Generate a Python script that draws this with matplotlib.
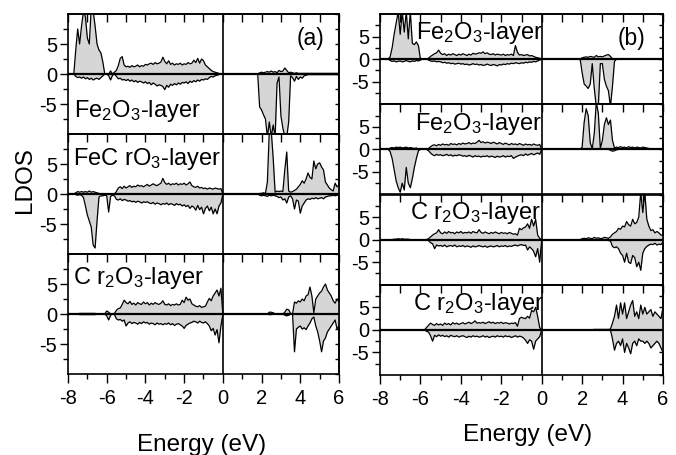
import matplotlib
matplotlib.use("Agg")
import matplotlib.pyplot as plt
import numpy as np
from matplotlib.ticker import MultipleLocator, FixedLocator, NullFormatter

plt.rcParams["font.family"] = ["Liberation Sans", "DejaVu Sans"]
plt.rcParams["mathtext.fontset"] = "custom"
plt.rcParams["mathtext.rm"] = "Liberation Sans"
plt.rcParams["mathtext.it"] = "Liberation Sans"
plt.rcParams["axes.unicode_minus"] = False

# energy sampling grid, 0.1 eV steps from -8 to 6 eV (141 points)
ENERGY = np.linspace(-8.0, 6.0, 141)

# ---- panel (a) ---------------------------------------------------------
# each row of 10 values covers one eV, starting at -8.0 eV
A_FE2O3_UP = [
    0, 0, 0, 0, 4.0, 7.5, 5.0, 8.0, 10.5, 9.5,
    6.0, 5.0, 11, 10.5, 8.0, 5.0, 4.0, 3.5, 2.0, 0,
    0, 0, 0.5, 0, 0.3, 0.6, 1.4, 2.6, 2.9, 1.5,
    1.2, 1.3, 1.1, 1.4, 1.2, 1.3, 1.5, 1.2, 1.4, 1.3,
    1.6, 1.5, 1.7, 1.8, 1.6, 1.9, 1.7, 1.8, 2.0, 2.8,
    2.1, 1.7, 2.2, 1.6, 1.8, 1.5, 1.7, 1.6, 1.8, 1.5,
    1.7, 1.6, 1.9, 1.7, 1.8, 2.3, 1.9, 2.6, 1.8, 2.5,
    2.2, 1.5, 1.2, 0.9, 0.6, 0.4, 0.3, 0.2, 0.1, 0,
    0, 0, 0, 0, 0, 0, 0, 0, 0, 0,
    0, 0, 0, 0, 0, 0, 0, 0, 0, 0.2,
    0.3, 0.2, 0.3, 0.4, 0.3, 0.5, 0.3, 0.4, 0.2, 0.6,
    0.4, 0.5, 1.0, 0.6, 0.2, 0.3, 0.2, 0.1, 0.2, 0.1,
    0.1, 0.1, 0.1, 0.1, 0.1, 0.1, 0.1, 0.1, 0.1, 0.1,
    0.1, 0.1, 0.1, 0.1, 0.1, 0.1, 0.1, 0.1, 0.1, 0.1,
    0.1,
]
A_FE2O3_DN = [
    0, 0, 0, 0, -0.4, -0.6, -0.5, -0.7, -0.5, -0.8,
    -0.6, -0.9, -0.7, -1.0, -0.8, -0.7, -0.9, -0.6, -0.3, 0,
    0, -0.3, -1.0, -0.2, 0, -0.4, -0.8, -0.7, -1.0, -0.9,
    -1.1, -0.9, -1.2, -1.0, -1.3, -1.1, -1.4, -1.2, -1.3, -1.5,
    -1.3, -1.6, -1.4, -1.8, -1.5, -1.7, -2.0, -1.8, -1.9, -2.1,
    -2.6, -1.9, -2.2, -1.7, -1.9, -1.6, -1.8, -1.5, -1.7, -1.4,
    -1.5, -1.3, -1.6, -1.2, -1.4, -1.1, -1.3, -1.0, -1.2, -0.9,
    -1.0, -0.8, -0.9, -0.6, -0.4, -0.5, -0.3, -0.2, -0.1, 0,
    0, 0, 0, 0, 0, 0, 0, 0, 0, 0,
    0, 0, 0, 0, 0, 0, 0, 0, 0, -5.5,
    -6.0, -6.8, -7.5, -10.5, -8.0, -10.5, -8.5, -10.5, -1.5, -0.5,
    -7.0, -9.0, -10.5, -10.5, -8.0, -0.3, -0.6, -1.2, -0.4, -0.9,
    -0.5, -0.7, -0.3, -0.2, -0.1, -0.1, -0.1, -0.1, -0.1, -0.1,
    -0.1, -0.1, -0.1, -0.1, -0.1, -0.1, -0.1, -0.1, -0.1, -0.1,
    -0.1,
]
A_FECRO3_UP = [
    0, 0, 0, 0, 0.2, 0.4, 0.3, 0.4, 0.3, 0.4,
    0.3, 0.5, 0.3, 0.4, 0.3, 0.2, 0.1, 0, 0, 0,
    0, 0, 0, 0, 0, 0.4, 1.0, 1.2, 0.9, 1.3,
    1.0, 1.2, 1.4, 1.1, 1.3, 1.2, 1.5, 1.3, 1.4, 1.2,
    1.4, 1.6, 1.3, 1.5, 1.7, 1.5, 1.4, 1.6, 1.8, 2.6,
    1.9, 1.6, 1.8, 1.5, 1.7, 1.6, 1.8, 1.5, 1.7, 1.6,
    1.8, 1.5, 1.7, 2.0, 1.4, 1.2, 1.1, 1.3, 1.0, 1.1,
    0.9, 1.0, 0.8, 1.0, 0.9, 0.8, 1.0, 0.9, 0.8, 0.9,
    0, 0, 0, 0, 0, 0, 0, 0, 0, 0,
    0, 0, 0, 0, 0, 0, 0, 0, 0, 0.1,
    0.1, 0.2, 0.1, 2.0, 10.5, 10.5, 6.0, 0.3, 0.5, 0.4,
    0.5, 0.4, 4.0, 7.0, 0.5, 0.3, 0.4, 0.6, 0.8, 1.2,
    1.6, 2.2, 1.8, 2.5, 3.5, 2.8, 2.5, 5.5, 4.2, 5.0,
    5.2, 4.5, 4.0, 2.0, 1.5, 1.0, 0.7, 0.5, 1.8, 1.2,
    1.5,
]
A_FECRO3_DN = [
    0, 0, 0, 0, -0.1, -0.2, -0.1, -0.2, -0.6, -2.0,
    -3.5, -4.5, -5.5, -8.5, -9.0, -4.5, -0.5, -0.3, -0.3, -0.2,
    -0.3, -3.0, -0.4, -0.2, -0.3, -0.9, -1.0, -0.8, -1.1, -0.9,
    -1.0, -1.2, -1.1, -1.3, -1.2, -1.4, -1.2, -1.3, -1.5, -1.3,
    -1.4, -1.3, -1.5, -1.6, -1.4, -1.7, -1.5, -1.6, -1.8, -1.6,
    -1.7, -1.5, -1.8, -1.6, -1.7, -1.9, -1.6, -1.8, -1.7, -2.0,
    -1.8, -2.1, -1.9, -2.4, -2.0, -2.2, -2.7, -1.9, -2.6, -2.2,
    -3.3, -2.4, -2.0, -2.8, -2.2, -3.3, -2.5, -3.3, -2.0, -1.5,
    0, 0, 0, 0, 0, 0, 0, 0, 0, 0,
    0, 0, 0, 0, 0, 0, 0, 0, 0, -0.2,
    -0.3, -0.2, -0.3, -0.4, -0.2, -0.3, -0.2, -0.3, -0.4, -0.6,
    -0.5, -1.0, -0.8, -1.5, -0.5, -0.3, -0.8, -2.5, -1.0, -1.2,
    -3.2, -2.0, -1.5, -1.0, -0.8, -0.9, -0.7, -0.8, -0.6, -0.8,
    -0.7, -0.6, -0.8, -0.5, -0.4, -0.3, -0.3, -0.2, -0.3, -0.2,
    -0.2,
]
A_CR2O3_UP = [
    0, 0, 0, 0, 0, 0, 0.1, 0.1, 0.1, 0.1,
    0.1, 0.1, 0.1, 0.1, 0.1, 0, 0, 0, 0, 0,
    0.5, 0.3, 0, 0, 0.1, 0.6, 0.9, 1.0, 1.6, 2.3,
    1.9, 1.7, 2.1, 1.6, 1.8, 1.5, 1.9, 1.7, 1.6, 2.0,
    1.7, 1.9, 1.5, 1.8, 1.6, 1.9, 1.7, 1.6, 1.8, 2.2,
    1.6, 1.5, 1.7, 1.4, 1.6, 1.5, 1.7, 1.5, 1.6, 2.3,
    1.9, 2.8, 2.3, 2.5, 1.7, 1.5, 1.3, 1.2, 1.4, 1.1,
    1.2, 1.3, 2.0, 2.6, 2.2, 3.0, 3.5, 4.0, 3.0, 4.3,
    0, 0, 0, 0, 0, 0, 0, 0, 0, 0,
    0, 0, 0, 0, 0, 0, 0, 0, 0, 0,
    0, 0, 0, 0, 0.3, 0.3, 0.2, 0, 0, 0,
    0, 0, 0.3, 0.8, 0.7, 0.1, 0, 2.0, 1.8, 2.2,
    2.0, 2.5, 2.2, 3.0, 3.2, 4.5, 3.0, 0.2, 2.5, 3.0,
    3.5, 3.8, 4.5, 5.0, 4.0, 3.5, 3.0, 2.2, 1.8, 2.5,
    2.0,
]
A_CR2O3_DN = [
    0, 0, 0, 0, 0, 0, -0.1, -0.1, -0.1, -0.1,
    -0.1, -0.1, -0.1, -0.1, -0.1, 0, 0, 0, 0, 0,
    -0.3, -1.0, -0.2, 0, -0.1, -0.8, -1.0, -0.9, -1.2, -1.0,
    -2.0, -1.5, -1.3, -1.6, -1.4, -1.5, -1.7, -1.4, -1.6, -1.3,
    -1.5, -1.4, -1.7, -1.5, -1.6, -1.8, -1.5, -1.7, -1.6, -1.8,
    -1.6, -1.7, -1.5, -1.8, -1.6, -1.9, -1.7, -1.6, -1.8, -2.0,
    -2.4, -1.9, -1.7, -1.5, -1.4, -1.2, -1.3, -1.5, -1.2, -1.4,
    -1.5, -1.3, -1.6, -2.0, -2.8, -2.4, -3.5, -2.6, -4.8, -2.0,
    0, 0, 0, 0, 0, 0, 0, 0, 0, 0,
    0, 0, 0, 0, 0, 0, 0, 0, 0, 0,
    0, 0, 0, 0, -0.1, -0.1, 0, 0, 0, 0,
    0, 0, -0.2, -0.3, -0.2, 0, 0, -6.3, -2.5, -2.2,
    -2.0, -2.5, -2.3, -2.6, -2.0, -1.5, -0.8, -0.5, -2.0, -3.0,
    -4.5, -6.3, -4.5, -4.0, -3.0, -2.5, -2.0, -1.5, -1.0, -2.5,
    -2.0,
]

# ---- panel (b) ---------------------------------------------------------
B_FE2O3_1_UP = [
    0, 0, 0, 0, 0, 0.5, 2.5, 5.5, 8.0, 10.5,
    5.5, 10.5, 6.0, 10.5, 4.5, 10.5, 3.5, 3.2, 3.8, 3.0,
    0, 0, 0, 0, 0.2, 0.6, 0.9, 1.2, 1.4, 2.0,
    1.3, 1.0, 1.2, 0.8, 1.1, 0.9, 1.2, 1.0, 0.8, 1.1,
    0.9, 1.2, 1.0, 0.8, 1.1, 0.9, 1.3, 1.1, 1.2, 1.4,
    1.3, 1.6, 1.2, 1.4, 1.1, 1.0, 1.2, 0.9, 1.1, 1.0,
    0.9, 1.1, 0.8, 1.0, 0.9, 1.1, 0.8, 3.0, 1.5, 0.9,
    1.0, 0.8, 0.9, 1.0, 0.7, 0.8, 0.6, 0.4, 0.3, 0.2,
    0, 0, 0, 0, 0, 0, 0, 0, 0, 0,
    0, 0, 0, 0, 0, 0, 0, 0, 0, 0,
    0.3, 0.4, 0.5, 0.4, 0.6, 0.5, 0.4, 0.8, 0.5, 0.6,
    0.5, 0.7, 0.9, 1.0, 0.6, 0.1, 0, 0, 0, 0,
    0, 0, 0, 0, 0, 0, 0, 0, 0, 0,
    0, 0, 0, 0, 0, 0, 0, 0, 0, 0,
    0,
]
B_FE2O3_1_DN = [
    0, 0, 0, 0, 0, -0.3, -0.5, -0.4, -0.6, -0.5,
    -0.4, -0.6, -0.5, -0.3, -0.5, -0.6, -0.4, -0.5, -0.3, -0.4,
    -0.2, 0, 0, 0, -0.2, -0.4, -0.5, -0.4, -0.6, -0.5,
    -0.6, -0.8, -0.7, -0.9, -0.8, -1.0, -0.9, -1.1, -1.0, -0.9,
    -1.1, -1.0, -1.2, -1.1, -1.3, -1.2, -1.0, -1.2, -1.1, -1.3,
    -1.2, -1.4, -1.3, -1.1, -1.3, -1.4, -1.2, -1.3, -1.5, -1.2,
    -1.3, -1.1, -1.2, -1.0, -1.1, -0.9, -1.0, -0.8, -0.9, -1.0,
    -0.8, -0.9, -0.7, -0.8, -0.6, -0.7, -0.5, -0.6, -0.4, -0.2,
    0, 0, 0, 0, 0, 0, 0, 0, 0, 0,
    0, 0, 0, 0, 0, 0, 0, 0, 0, 0,
    -3.0, -5.5, -6.0, -6.5, -5.5, -1.0, -6.5, -10.5, -10.5, -1.0,
    -1.0, -4.5, -6.0, -7.0, -10.5, -6.0, -0.5, 0, 0, 0,
    0, 0, 0, 0, 0, 0, 0, 0, 0, 0,
    0, 0, 0, 0, 0, 0, 0, 0, 0, 0,
    0,
]
B_FE2O3_2_UP = [
    0, 0, 0, 0, 0, 0.3, 0.4, 0.3, 0.5, 0.4,
    0.5, 0.3, 0.4, 0.5, 0.3, 0.4, 0.3, 0.2, 0.3, 0.1,
    0, 0, 0, 0, 0.2, 0.6, 0.9, 1.0, 0.8, 1.1,
    0.9, 1.2, 1.0, 1.1, 0.9, 1.3, 1.1, 1.2, 1.0, 1.3,
    1.1, 1.4, 1.2, 1.3, 1.5, 1.2, 1.4, 1.3, 1.6, 2.0,
    1.5, 1.7, 1.4, 1.6, 1.5, 1.3, 1.6, 1.4, 1.2, 1.5,
    1.3, 1.1, 1.4, 1.2, 1.0, 1.3, 1.1, 1.2, 1.0, 1.3,
    1.1, 0.9, 1.2, 1.0, 1.1, 0.9, 1.2, 1.0, 0.9, 1.1,
    0, 0, 0, 0, 0, 0, 0, 0, 0, 0,
    0, 0, 0, 0, 0, 0, 0, 0, 0, 0,
    0.5, 6.0, 9.0, 7.5, 1.5, 0.1, 3.5, 10.5, 8.0, 0.2,
    2.0, 5.5, 7.0, 5.5, 6.5, 2.0, 0.3, 0.5, 0.4, 0.6,
    0.4, 0.5, 0.3, 0.6, 0.4, 0.5, 0.3, 0.5, 0.4, 0.3,
    0.5, 0.4, 0.3, 0.2, 0.1, 0.1, 0.1, 0.1, 0.1, 0.1,
    0.1,
]
B_FE2O3_2_DN = [
    0, 0, 0, 0, 0, -0.5, -2.0, -4.5, -7.0, -8.5,
    -9.5, -7.5, -9.0, -4.0, -7.5, -8.5, -6.5, -4.0, -2.0, -0.3,
    0, 0, 0, 0, -0.3, -0.8, -1.2, -1.4, -1.1, -1.3,
    -1.2, -1.4, -1.3, -1.1, -1.4, -1.2, -1.5, -1.3, -1.4, -1.2,
    -1.3, -1.5, -1.4, -1.6, -1.3, -1.5, -1.7, -1.4, -1.6, -1.5,
    -1.7, -1.5, -1.6, -1.4, -1.7, -1.5, -1.6, -1.8, -1.5, -1.7,
    -1.6, -1.4, -1.7, -1.5, -1.6, -1.4, -2.0, -1.7, -1.5, -1.3,
    -1.2, -1.4, -1.0, -1.3, -1.1, -0.9, -1.2, -1.0, -0.8, -1.1,
    0, 0, 0, 0, 0, 0, 0, 0, 0, 0,
    0, 0, 0, 0, 0, 0, 0, 0, 0, 0,
    0, 0, 0, 0, 0, 0, 0, 0, 0, 0,
    0, 0, 0, 0, -0.2, -0.4, -0.3, -0.1, 0, 0,
    0, 0, 0, 0, 0, 0, 0, 0, 0, 0,
    0, 0, 0, 0, 0, 0, 0, 0, 0, 0,
    0,
]
B_CR2O3_1_UP = [
    0, 0, 0, 0, 0, 0, 0, 0.1, 0.1, 0.2,
    0.1, 0.2, 0.1, 0.1, 0.1, 0, 0, 0, 0, 0,
    0, 0, 0, 0, 0.2, 0.6, 1.0, 1.3, 1.5, 2.2,
    1.5, 1.3, 1.7, 1.4, 1.8, 1.5, 1.6, 1.3, 1.7, 1.5,
    1.8, 1.4, 1.6, 1.5, 1.7, 1.4, 1.8, 1.6, 1.5, 2.2,
    1.6, 1.4, 1.7, 1.5, 1.3, 1.6, 1.4, 1.7, 1.5, 1.3,
    1.6, 1.4, 1.5, 1.3, 1.6, 1.4, 1.2, 1.3, 1.0, 2.5,
    2.2, 2.6, 2.8, 3.5, 2.5, 4.5, 3.0, 4.5, 1.0, 0.3,
    0, 0, 0, 0, 0, 0, 0, 0, 0, 0,
    0, 0, 0, 0, 0, 0, 0, 0, 0, 0,
    0.2, 0.3, 0.2, 0.4, 0.3, 0.2, 0.5, 0.3, 0.4, 0.2,
    0.3, 0.5, 0.4, 0.3, 0.6, 1.2, 1.5, 1.8, 2.5, 2.3,
    3.0, 2.8, 4.0, 3.3, 3.0, 4.5, 3.5, 3.8, 5.0, 10.5,
    6.0, 10.5, 4.5, 3.0, 2.0, 2.2, 1.5, 1.8, 1.5, 1.0,
    1.0,
]
B_CR2O3_1_DN = [
    0, 0, 0, 0, 0, 0, 0, -0.1, -0.1, -0.1,
    -0.1, -0.1, -0.1, -0.1, -0.1, 0, 0, 0, 0, 0,
    0, 0, 0, 0, -0.2, -0.7, -0.9, -2.0, -1.2, -1.4,
    -1.3, -1.5, -1.2, -1.6, -1.4, -1.3, -1.5, -1.2, -1.6, -1.4,
    -1.5, -1.3, -1.6, -1.4, -1.5, -1.7, -1.4, -1.6, -1.5, -1.3,
    -1.5, -1.6, -1.4, -1.7, -1.5, -1.4, -1.6, -1.5, -1.3, -1.6,
    -1.4, -1.5, -1.3, -1.6, -1.4, -1.5, -1.3, -1.2, -1.4, -1.2,
    -1.1, -1.3, -1.2, -2.3, -1.6, -2.0, -2.6, -3.8, -2.0, -5.0,
    0, 0, 0, 0, 0, 0, 0, 0, 0, 0,
    0, 0, 0, 0, 0, 0, 0, 0, 0, 0,
    0, 0, 0, 0, 0, 0, 0, 0, 0, 0,
    0, 0, 0, -0.2, -0.3, -1.5, -1.8, -1.6, -2.0, -3.0,
    -3.5, -5.0, -3.0, -5.0, -5.3, -3.5, -4.0, -6.0, -5.0, -6.8,
    -3.0, -2.0, -1.5, -1.2, -1.0, -1.1, -0.8, -1.2, -1.0, -1.1,
    -0.5,
]
B_CR2O3_2_UP = [
    0, 0, 0, 0, 0, 0, 0, 0, 0, 0,
    0, 0, 0, 0, 0, 0, 0, 0, 0, 0,
    0, 0, 0, 0.5, 1.0, 1.5, 1.2, 1.0, 1.4, 1.1,
    1.3, 1.0, 1.5, 1.2, 1.4, 1.1, 1.6, 1.3, 1.5, 1.2,
    1.4, 1.6, 1.3, 1.5, 1.7, 1.4, 1.6, 2.0, 1.5, 1.6,
    1.5, 1.7, 1.4, 1.6, 1.8, 1.5, 1.7, 1.4, 1.6, 1.5,
    1.7, 1.4, 1.6, 1.5, 1.3, 1.5, 1.4, 1.6, 0.8, 2.5,
    2.8, 2.6, 2.5, 3.0, 2.6, 4.3, 4.0, 5.0, 3.0, 0.5,
    0, 0, 0, 0, 0, 0, 0, 0, 0, 0,
    0, 0, 0, 0, 0, 0, 0, 0, 0, 0,
    0, 0, 0, 0, 0.05, 0.05, 0.1, 0.1, 0.1, 0.1,
    0.1, 0.1, 0.1, 0.1, 0.2, 1.5, 3.0, 5.5, 2.5, 6.0,
    3.5, 6.0, 2.5, 4.0, 5.5, 6.5, 3.0, 4.0, 2.5, 5.5,
    3.5, 5.0, 3.5, 4.0, 4.5, 3.0, 4.0, 3.5, 3.0, 2.5,
    5.0,
]
B_CR2O3_2_DN = [
    0, 0, 0, 0, 0, 0, 0, 0, 0, 0,
    0, 0, 0, 0, 0, 0, 0, 0, 0, 0,
    0, 0, 0, -0.3, -0.5, -1.3, -2.5, -1.2, -1.5, -1.1,
    -1.4, -1.2, -1.5, -1.3, -1.6, -1.2, -1.4, -1.5, -1.3, -1.6,
    -1.4, -1.3, -1.5, -1.7, -1.4, -1.6, -1.3, -1.5, -1.4, -1.6,
    -1.5, -1.3, -1.6, -1.4, -1.7, -1.5, -1.4, -1.6, -1.3, -1.5,
    -1.4, -1.6, -1.3, -1.5, -1.4, -1.7, -1.5, -1.3, -1.6, -1.4,
    -1.5, -1.8, -2.3, -3.0, -2.2, -2.5, -4.3, -2.5, -2.0, -1.5,
    0, 0, 0, 0, 0, 0, 0, 0, 0, 0,
    0, 0, 0, 0, 0, 0, 0, 0, 0, 0,
    0, 0, 0, 0, 0, 0, 0, 0, 0, 0,
    0, 0, 0, 0, 0, -2.0, -4.5, -3.0, -2.5, -3.5,
    -2.0, -5.0, -3.0, -4.0, -5.3, -3.0, -2.5, -3.5, -2.0, -2.5,
    -2.5, -3.0, -2.5, -3.0, -4.0, -3.5, -3.0, -2.5, -3.0, -4.0,
    -5.0,
]

LABEL_FE2O3 = "Fe$_2$O$_3$-layer"
LABEL_FECRO3 = "FeC rO$_3$-layer"
LABEL_CR2O3 = "C r$_2$O$_3$-layer"

FILL = "#d6d6d6"
FIG_W, FIG_H = 676, 455


def px_rect(x0, y0, x1, y1):
    # pixel box (top-left origin) -> figure fraction rect
    return [x0 / FIG_W, 1 - y1 / FIG_H, (x1 - x0) / FIG_W, (y1 - y0) / FIG_H]


def draw_dos(ax, up, dn, label, lx, ly, bottom):
    up = np.asarray(up, dtype=float)
    dn = np.asarray(dn, dtype=float)
    ax.fill_between(ENERGY, up, 0, color=FILL, lw=0)
    ax.fill_between(ENERGY, dn, 0, color=FILL, lw=0)
    ax.plot(ENERGY, up, color="black", lw=0.9)
    ax.plot(ENERGY, dn, color="black", lw=0.9)
    ax.axhline(0, color="black", lw=1.6)
    ax.axvline(0, color="black", lw=1.2)
    ax.set_xlim(-8, 6)
    ax.set_ylim(-10, 10)
    for s in ax.spines.values():
        s.set_linewidth(1.2)

    ax.set_yticks([-5, 0, 5])
    ax.yaxis.set_minor_locator(FixedLocator([-7.5, -2.5, 2.5, 7.5]))
    ax.tick_params(axis="y", which="major", direction="out", length=6,
                   width=1.0, labelsize=14.5, pad=2)
    ax.tick_params(axis="y", which="minor", direction="out", length=3.5,
                   width=1.0)

    ax.set_xticks(range(-8, 7, 2))
    ax.xaxis.set_minor_locator(MultipleLocator(1))
    if bottom:
        ax.tick_params(axis="x", which="major", direction="out", length=6.5,
                       width=1.0, labelsize=14.5, pad=4.5)
        ax.tick_params(axis="x", which="minor", direction="out", length=3.5,
                       width=1.0)
    else:
        ax.tick_params(axis="x", which="both", bottom=False, labelbottom=False)

    top = ax.secondary_xaxis("top")
    top.xaxis.set_major_locator(MultipleLocator(1))
    top.xaxis.set_major_formatter(NullFormatter())
    top.tick_params(direction="in", length=6, width=1.0)
    right = ax.secondary_yaxis("right")
    right.yaxis.set_major_locator(MultipleLocator(2.5))
    right.yaxis.set_major_formatter(NullFormatter())
    right.tick_params(direction="in", length=3, width=1.0)
    top.spines["top"].set_linewidth(1.2)
    right.spines["right"].set_linewidth(1.2)

    ax.text(lx, ly, label, transform=ax.transAxes, fontsize=17,
            ha="left", va="baseline")


fig = plt.figure(figsize=(FIG_W / 100, FIG_H / 100), dpi=100)

# panel (a): three layers, 120 px tall each
a_rows = [
    (A_FE2O3_UP, A_FE2O3_DN, LABEL_FE2O3, 0.022, 0.142),
    (A_FECRO3_UP, A_FECRO3_DN, LABEL_FECRO3, 0.017, 0.744),
    (A_CR2O3_UP, A_CR2O3_DN, LABEL_CR2O3, 0.017, 0.752),
]
a_axes = []
for k, (up, dn, lab, lx, ly) in enumerate(a_rows):
    y0 = 14 + 120 * k
    ax = fig.add_axes(px_rect(68, y0, 339, y0 + 120))
    draw_dos(ax, up, dn, lab, lx, ly, bottom=(k == 2))
    a_axes.append(ax)
a_axes[0].text(0.893, 0.80, "(a)", transform=a_axes[0].transAxes,
               fontsize=16.5, ha="center", va="center")

# panel (b): four layers, ~90 px tall each
b_rows = [
    (B_FE2O3_1_UP, B_FE2O3_1_DN, LABEL_FE2O3, 0.128, 0.72),
    (B_FE2O3_2_UP, B_FE2O3_2_DN, LABEL_FE2O3, 0.125, 0.72),
    (B_CR2O3_1_UP, B_CR2O3_1_DN, LABEL_CR2O3, 0.105, 0.73),
    (B_CR2O3_2_UP, B_CR2O3_2_DN, LABEL_CR2O3, 0.117, 0.72),
]
b_axes = []
for k, (up, dn, lab, lx, ly) in enumerate(b_rows):
    y0 = 14 + 90.25 * k
    ax = fig.add_axes(px_rect(380, y0, 663, y0 + 90.25))
    draw_dos(ax, up, dn, lab, lx, ly, bottom=(k == 3))
    b_axes.append(ax)
b_axes[0].text(0.89, 0.73, "(b)", transform=b_axes[0].transAxes,
               fontsize=16.5, ha="center", va="center")

fig.text(202 / FIG_W, 1 - 451 / FIG_H, "Energy (eV)", fontsize=17.5,
         ha="center", va="baseline")
fig.text(528 / FIG_W, 1 - 441 / FIG_H, "Energy (eV)", fontsize=17.5,
         ha="center", va="baseline")
fig.text(25 / FIG_W, 1 - 180 / FIG_H, "LDOS", fontsize=17.5, rotation=90,
         ha="center", va="center")

fig.savefig("out.png", dpi=100)
